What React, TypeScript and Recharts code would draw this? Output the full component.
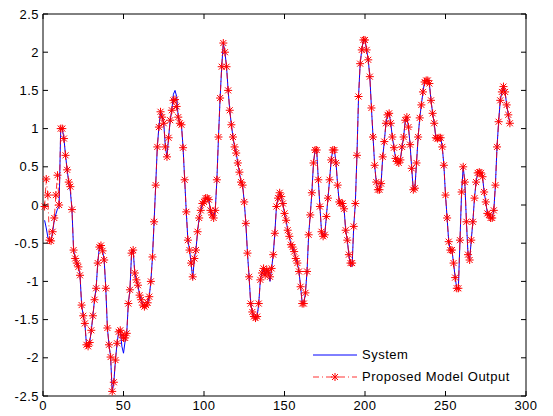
import { LineChart, Line, XAxis, YAxis, ReferenceArea } from "recharts";

// model output, one value per sample (sample 1 .. 290)
const modelOut = [
  -0.02, 0.34, 0.13, -0.46, -0.47, -0.35, -0.17, 0.13, 0.39, 0.0,
  1.0, 1.0, 0.87, 0.65, 0.46, 0.3, 0.24, -0.06, -0.59, -0.7,
  -0.76, -0.81, -0.92, -1.31, -1.45, -1.55, -1.83, -1.85, -1.8, -1.64,
  -1.45, -1.24, -1.09, -0.76, -0.55, -0.53, -0.6, -0.72, -1.09, -1.61,
  -1.83, -1.99, -2.44, -2.32, -2.03, -1.81, -1.66, -1.64, -1.7, -1.74,
  -1.74, -1.68, -1.29, -1.11, -0.63, -0.59, -0.89, -0.98, -1.05, -1.18,
  -1.24, -1.31, -1.33, -1.31, -1.28, -1.2, -1.0, -0.68, -0.22, 0.26,
  0.76, 1.02, 1.22, 1.15, 1.07, 0.76, 0.63, 0.88, 1.11, 1.24,
  1.37, 1.38, 1.29, 1.15, 1.07, 1.05, 0.75, 0.33, -0.09, -0.46,
  -0.59, -0.76, -0.94, -0.7, -0.59, -0.35, -0.17, -0.07, 0.02, 0.04,
  0.09, 0.09, 0.07, -0.07, -0.13, -0.17, -0.07, 0.33, 0.89, 1.4,
  1.81, 2.12, 2.0, 1.81, 1.5, 1.24, 1.05, 0.89, 0.76, 0.68,
  0.55, 0.43, 0.3, 0.26, 0.04, -0.24, -0.63, -0.94, -1.29, -1.4,
  -1.46, -1.48, -1.46, -1.29, -0.98, -0.89, -0.83, -0.92, -0.85, -0.88,
  -0.94, -0.83, -0.65, -0.37, -0.02, 0.09, 0.16, 0.11, 0.02, -0.11,
  -0.2, -0.33, -0.41, -0.52, -0.55, -0.61, -0.7, -0.76, -0.87, -1.07,
  -1.29, -1.29, -1.15, -0.87, -0.39, -0.13, 0.16, 0.55, 0.72, 0.72,
  0.33, -0.02, -0.35, -0.41, -0.39, -0.15, 0.09, 0.33, 0.59, 0.72,
  0.72, 0.55, 0.26, 0.04, 0.02, 0.02, -0.05, -0.33, -0.46, -0.65,
  -0.76, -0.76, -0.28, 0.02, 0.65, 1.42, 1.85, 2.03, 2.16, 2.16,
  2.03, 1.9, 1.68, 1.27, 0.89, 0.52, 0.3, 0.2, 0.2, 0.28,
  0.63, 0.83, 1.07, 1.18, 1.2, 1.07, 0.89, 0.75, 0.61, 0.57,
  0.55, 0.59, 0.76, 0.89, 1.11, 1.15, 1.02, 0.79, 0.48, 0.2,
  0.22, 0.55, 0.89, 1.14, 1.31, 1.48, 1.61, 1.63, 1.63, 1.59,
  1.37, 1.2, 1.07, 0.88, 0.87, 0.88, 0.88, 0.76, 0.52, 0.13,
  -0.17, -0.48, -0.59, -0.59, -0.76, -0.95, -1.09, -1.09, -0.46, 0.17,
  0.5, 0.3, -0.22, -0.65, -0.72, -0.46, -0.22, 0.09, 0.3, 0.42,
  0.43, 0.42, 0.37, 0.17, 0.04, -0.11, -0.13, -0.17, -0.17, -0.07,
  0.26, 0.76, 1.09, 1.37, 1.48, 1.55, 1.48, 1.31, 1.18, 1.07,
];

// system output, same samples
const systemOut = [
  -0.2, -0.3, -0.42, -0.46, -0.47, -0.35, -0.2, -0.12, -0.05, -0.02,
  1.0, 1.0, 0.87, 0.65, 0.46, 0.3, 0.18, -0.06, -0.59, -0.7,
  -0.76, -0.81, -0.92, -1.31, -1.45, -1.55, -1.83, -1.85, -1.8, -1.64,
  -1.45, -1.24, -1.09, -0.76, -0.55, -0.53, -0.6, -0.72, -1.09, -1.61,
  -1.83, -1.99, -2.45, -2.32, -2.03, -1.81, -1.66, -1.64, -1.85, -1.94,
  -1.78, -1.68, -1.29, -1.11, -0.63, -0.59, -0.89, -0.98, -1.05, -1.18,
  -1.24, -1.31, -1.33, -1.31, -1.28, -1.2, -1.0, -0.68, -0.22, 0.26,
  0.76, 1.02, 1.22, 1.15, 1.07, 0.76, 0.63, 0.88, 1.11, 1.24,
  1.45, 1.5, 1.42, 1.15, 1.07, 1.05, 0.75, 0.33, -0.09, -0.46,
  -0.59, -0.76, -0.97, -0.7, -0.59, -0.35, -0.17, -0.07, 0.02, 0.04,
  0.09, 0.09, 0.07, -0.07, -0.13, -0.17, -0.07, 0.33, 0.89, 1.4,
  1.81, 2.12, 2.0, 1.81, 1.5, 1.24, 1.05, 0.89, 0.76, 0.68,
  0.55, 0.43, 0.3, 0.26, 0.04, -0.24, -0.63, -0.94, -1.29, -1.4,
  -1.46, -1.5, -1.46, -1.29, -0.98, -0.89, -0.83, -0.92, -0.85, -0.88,
  -1.0, -0.83, -0.65, -0.37, -0.02, 0.09, 0.16, 0.11, 0.02, -0.11,
  -0.2, -0.33, -0.41, -0.52, -0.55, -0.61, -0.7, -0.76, -0.87, -1.07,
  -1.29, -1.29, -1.15, -0.87, -0.39, -0.13, 0.16, 0.55, 0.72, 0.72,
  0.33, -0.02, -0.35, -0.41, -0.39, -0.15, 0.09, 0.33, 0.59, 0.72,
  0.72, 0.55, 0.26, 0.04, 0.02, 0.02, -0.05, -0.33, -0.46, -0.65,
  -0.8, -0.8, -0.28, 0.02, 0.65, 1.42, 1.85, 2.03, 2.16, 2.16,
  2.03, 1.9, 1.68, 1.27, 0.89, 0.52, 0.3, 0.2, 0.2, 0.28,
  0.63, 0.83, 1.07, 1.18, 1.2, 1.07, 0.89, 0.75, 0.61, 0.57,
  0.55, 0.59, 0.76, 0.89, 1.11, 1.15, 1.02, 0.79, 0.48, 0.2,
  0.22, 0.55, 0.89, 1.14, 1.31, 1.48, 1.61, 1.63, 1.63, 1.59,
  1.37, 1.2, 1.07, 0.88, 0.87, 0.88, 0.88, 0.76, 0.52, 0.13,
  -0.17, -0.48, -0.59, -0.59, -0.76, -0.95, -1.09, -1.09, -0.46, 0.17,
  0.5, 0.3, -0.22, -0.65, -0.72, -0.46, -0.22, 0.09, 0.3, 0.42,
  0.43, 0.42, 0.37, 0.17, 0.04, -0.11, -0.13, -0.17, -0.17, -0.07,
  0.26, 0.76, 1.09, 1.37, 1.48, 1.55, 1.48, 1.31, 1.18, 1.07,
];

const xTicks = [0, 50, 100, 150, 200, 250, 300];
const yTicks = [-2.5, -2, -1.5, -1, -0.5, 0, 0.5, 1, 1.5, 2, 2.5];
const seriesNames = ["System", "Proposed Model Output"];

const data = modelOut.map((m, i) => ({ x: i + 1, system: systemOut[i], model: m }));

// plot box in pixels (used by the inward tick marks)
const BOX = { left: 43, right: 526, top: 14, bottom: 396 };
const FONT = "'Liberation Sans', Arial, sans-serif";
const textStyle = { fontSize: 13, fontFamily: FONT, letterSpacing: 0.5, fill: "#000" };

const starPath = (cx: number, cy: number, r: number) =>
  `M${cx - r},${cy}L${cx + r},${cy}M${cx},${cy - r}L${cx},${cy + r}` +
  `M${cx - r * 0.75},${cy - r * 0.75}L${cx + r * 0.75},${cy + r * 0.75}` +
  `M${cx - r * 0.75},${cy + r * 0.75}L${cx + r * 0.75},${cy - r * 0.75}`;

const StarDot = (props: any) => {
  const { cx, cy, index } = props;
  if (cx == null || cy == null) return <g key={index} />;
  return <path key={index} d={starPath(cx, cy, 4)} stroke="#ff0000" strokeWidth={1} fill="none" />;
};

const XTick = ({ x, payload }: any) => (
  <g>
    <line x1={x} x2={x} y1={BOX.bottom} y2={BOX.bottom - 5} stroke="#000" />
    <line x1={x} x2={x} y1={BOX.top} y2={BOX.top + 5} stroke="#000" />
    <text x={x} y={BOX.bottom + 14} textAnchor="middle" style={textStyle}>
      {payload.value}
    </text>
  </g>
);

const YTick = ({ y, payload }: any) => (
  <g>
    <line x1={BOX.left} x2={BOX.left + 5} y1={y} y2={y} stroke="#000" />
    <line x1={BOX.right} x2={BOX.right - 5} y1={y} y2={y} stroke="#000" />
    <text x={BOX.left - 4} y={y + 4.5} textAnchor="end" style={textStyle}>
      {String(payload.value)}
    </text>
  </g>
);

const LegendBox = () => (
  <svg width={230} height={50} style={{ position: "absolute", left: 305, top: 343 }}>
    <line x1={8} x2={52} y1={12} y2={12} stroke="#0000ff" strokeWidth={1} />
    <text x={57} y={16} style={textStyle}>
      {seriesNames[0]}
    </text>
    <line x1={8} x2={52} y1={34} y2={34} stroke="#ff0000" strokeOpacity={0.8} strokeWidth={1} strokeDasharray="6 3 1 3" />
    <path d={starPath(30, 34, 4)} stroke="#ff0000" strokeWidth={1} fill="none" />
    <text x={57} y={38} style={textStyle}>
      {seriesNames[1]}
    </text>
  </svg>
);

export default function App() {
  return (
    <div style={{ position: "absolute", left: 0, top: 0, width: 553, height: 416, background: "#fff" }}>
      <LineChart
        width={553}
        height={416}
        data={data}
        margin={{ top: 14, right: 27, bottom: 0, left: 0 }}
      >
        <XAxis
          dataKey="x"
          type="number"
          domain={[0, 300]}
          ticks={xTicks}
          axisLine={false}
          tickLine={false}
          tick={<XTick />}
          height={20}
          interval={0}
        />
        <YAxis
          type="number"
          domain={[-2.5, 2.5]}
          ticks={yTicks}
          axisLine={false}
          tickLine={false}
          tick={<YTick />}
          width={43}
          interval={0}
        />
        <ReferenceArea x1={0} x2={300} y1={-2.5} y2={2.5} fill="none" stroke="#000" strokeWidth={1} />
        <Line
          dataKey="system"
          name={seriesNames[0]}
          stroke="#0000ff"
          strokeWidth={1}
          dot={false}
          activeDot={false}
          isAnimationActive={false}
        />
        <Line
          dataKey="model"
          name={seriesNames[1]}
          stroke="#ff0000"
          strokeOpacity={0.8}
          strokeWidth={1}
          strokeDasharray="6 3 1 3"
          dot={StarDot}
          activeDot={false}
          isAnimationActive={false}
        />
      </LineChart>
      <LegendBox />
    </div>
  );
}
